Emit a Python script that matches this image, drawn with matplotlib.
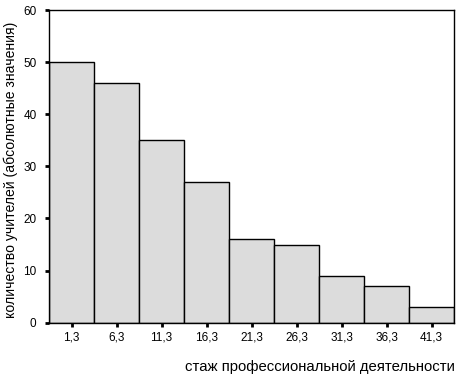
import matplotlib
matplotlib.use("Agg")
import matplotlib.pyplot as plt

# stage (years) bin centres and teacher counts
centers = [1.3, 6.3, 11.3, 16.3, 21.3, 26.3, 31.3, 36.3, 41.3]
counts = [50, 46, 35, 27, 16, 15, 9, 7, 3]
tick_labels = ["1,3", "6,3", "11,3", "16,3", "21,3", "26,3", "31,3", "36,3", "41,3"]
y_ticks = [0, 10, 20, 30, 40, 50, 60]

plt.rcParams['font.family'] = ['Liberation Sans', 'DejaVu Sans']

fig = plt.figure(figsize=(4.6, 3.79), dpi=100)
ax = fig.add_axes([49/460, 1 - 322.7/379, 405/460, 312.7/379])

ax.bar(centers, counts, width=5, color='#dcdcdc', edgecolor='black', linewidth=1.0, align='center')
ax.set_xlim(centers[0] - 2.5, centers[-1] + 2.5)
ax.set_ylim(0, 60)

ax.set_xticks(centers)
ax.set_xticklabels(tick_labels, fontsize=8.5)
ax.set_yticks(y_ticks)
ax.set_yticklabels([str(v) for v in y_ticks], fontsize=8.5)
ax.tick_params(direction='out', length=3, width=2)
ax.tick_params(axis='y', pad=6)
ax.tick_params(axis='x', pad=3)

for s in ax.spines.values():
    s.set_linewidth(1.0)

fig.text(11/460, 1 - 170/379, "количество учителей (абсолютные значения)", fontsize=10.1,
         rotation=90, ha='center', va='center')
fig.text(455/460, 1 - 367/379, "стаж профессиональной деятельности", fontsize=10.7,
         ha='right', va='center')

fig.savefig("out.png", dpi=100)
